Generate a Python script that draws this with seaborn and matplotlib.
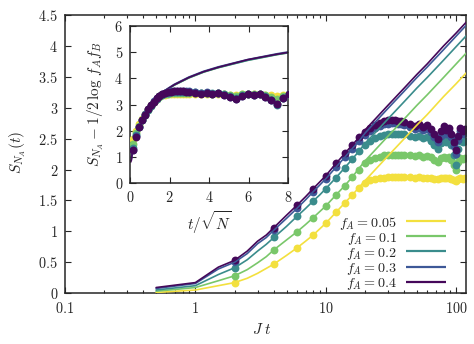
import numpy as np
import pandas as pd
import matplotlib
matplotlib.use("Agg")
import matplotlib.pyplot as plt
from matplotlib.ticker import FixedLocator, FuncFormatter, LogLocator, NullFormatter, MultipleLocator
import seaborn as sns

# ---------------------------------------------------------------- data
f_A = [0.05, 0.1, 0.2, 0.3, 0.4]
labels = [r"$f_A = 0.05$", r"$f_A = 0.1$", r"$f_A = 0.2$", r"$f_A = 0.3$", r"$f_A = 0.4$"]
colors = ["#f3e03e", "#79c76a", "#3a8c8c", "#3d5897", "#45085a"]
N_sites = 180

# infinite-system entropy (continuous lines)
t_line = [0.5, 1, 1.5, 2, 2.5, 3, 3.5, 4, 5, 6, 7, 8, 9, 10, 12, 14, 16, 18, 20,
          25, 30, 40, 50, 60, 80, 100, 120]
S_line_005 = [0.01, 0.05, 0.12, 0.17, 0.24, 0.32, 0.40, 0.47, 0.61, 0.73, 0.84, 0.94, 1.04, 1.13,
              1.31, 1.46, 1.59, 1.71, 1.82, 2.04, 2.22, 2.50, 2.72, 2.89, 3.18, 3.39, 3.57]
S_line_01 = [0.03, 0.09, 0.20, 0.28, 0.38, 0.49, 0.59, 0.70, 0.86, 0.99, 1.11, 1.22, 1.32, 1.41,
             1.59, 1.74, 1.88, 2.02, 2.14, 2.36, 2.54, 2.82, 3.04, 3.21, 3.49, 3.71, 3.89]
S_line_02 = [0.05, 0.12, 0.30, 0.41, 0.54, 0.68, 0.79, 0.90, 1.08, 1.24, 1.37, 1.49, 1.59, 1.69,
             1.87, 2.03, 2.17, 2.30, 2.42, 2.64, 2.82, 3.10, 3.32, 3.49, 3.77, 3.99, 4.17]
S_line_03 = [0.075, 0.155, 0.39, 0.50, 0.64, 0.80, 0.90, 1.02, 1.21, 1.37, 1.51, 1.64, 1.75, 1.85,
             2.04, 2.20, 2.34, 2.46, 2.59, 2.81, 2.99, 3.27, 3.49, 3.66, 3.94, 4.16, 4.34]
S_line_04 = [0.09, 0.17, 0.42, 0.53, 0.68, 0.84, 0.94, 1.06, 1.26, 1.42, 1.56, 1.69, 1.80, 1.90,
             2.10, 2.26, 2.40, 2.52, 2.64, 2.86, 3.04, 3.32, 3.54, 3.71, 4.00, 4.21, 4.39]

# finite-system entropy (circles)
t_mark = [2, 4, 6, 8, 10, 12, 14, 16, 18, 20, 22, 24, 26, 28, 30, 32, 34, 36, 38, 40,
          44, 48, 52, 56, 60, 64, 68, 72, 76, 80, 84, 88, 92, 96, 100, 104, 108, 112, 116]
S_mark_005 = [0.17, 0.47, 0.73, 0.94, 1.13, 1.31, 1.46, 1.59, 1.70, 1.79, 1.83, 1.85, 1.86, 1.87,
              1.88, 1.88, 1.88, 1.88, 1.88, 1.88, 1.88, 1.87, 1.88, 1.87, 1.87, 1.87, 1.85, 1.84,
              1.86, 1.87, 1.86, 1.87, 1.85, 1.83, 1.81, 1.84, 1.86, 1.85, 1.86]
S_mark_01 = [0.28, 0.70, 0.99, 1.22, 1.41, 1.59, 1.74, 1.88, 2.00, 2.10, 2.15, 2.19, 2.21, 2.23,
             2.24, 2.24, 2.24, 2.24, 2.24, 2.24, 2.23, 2.22, 2.23, 2.21, 2.22, 2.20, 2.16, 2.12,
             2.18, 2.21, 2.19, 2.20, 2.15, 2.08, 2.00, 2.12, 2.19, 2.17, 2.18]
S_mark_02 = [0.41, 0.90, 1.24, 1.49, 1.69, 1.87, 2.03, 2.17, 2.30, 2.40, 2.46, 2.51, 2.54, 2.56,
             2.57, 2.58, 2.58, 2.58, 2.58, 2.57, 2.55, 2.53, 2.54, 2.51, 2.52, 2.47, 2.40, 2.33,
             2.43, 2.50, 2.45, 2.48, 2.39, 2.24, 2.08, 2.33, 2.47, 2.44, 2.46]
S_mark_03 = [0.50, 1.02, 1.37, 1.64, 1.85, 2.04, 2.20, 2.34, 2.46, 2.56, 2.62, 2.67, 2.70, 2.73,
             2.74, 2.75, 2.75, 2.74, 2.73, 2.72, 2.69, 2.66, 2.68, 2.64, 2.66, 2.60, 2.52, 2.44,
             2.55, 2.64, 2.58, 2.62, 2.52, 2.38, 2.25, 2.48, 2.62, 2.57, 2.60]
S_mark_04 = [0.53, 1.06, 1.42, 1.69, 1.90, 2.10, 2.26, 2.40, 2.52, 2.61, 2.67, 2.72, 2.75, 2.78,
             2.80, 2.80, 2.80, 2.79, 2.78, 2.77, 2.74, 2.70, 2.73, 2.69, 2.72, 2.66, 2.58, 2.50,
             2.62, 2.70, 2.64, 2.68, 2.58, 2.45, 2.32, 2.55, 2.68, 2.63, 2.66]

S_line = [S_line_005, S_line_01, S_line_02, S_line_03, S_line_04]
S_mark = [S_mark_005, S_mark_01, S_mark_02, S_mark_03, S_mark_04]

# ---------------------------------------------------------------- style
sns.set_style("ticks")
plt.rcParams["mathtext.fontset"] = "cm"
plt.rcParams["font.family"] = ["DejaVu Serif"]
FS = 10.3    # tick labels
LFS = 11     # axis labels
GFS = 10.2   # legend entries

lines_df = pd.concat([pd.DataFrame({"t": t_line, "S": s, "fA": f})
                      for f, s in zip(f_A, S_line)], ignore_index=True)
marks_df = pd.concat([pd.DataFrame({"t": t_mark, "S": s, "fA": f})
                      for f, s in zip(f_A, S_mark)], ignore_index=True)
sqrtN = np.sqrt(N_sites)
for df in (lines_df, marks_df):
    df["tau"] = df["t"] / sqrtN
    df["S_shift"] = df["S"] - 0.5 * np.log(df["fA"] * (1 - df["fA"]))

fig = plt.figure(figsize=(4.74, 3.44), dpi=100)
ax = fig.add_axes([0.1371, 0.148, 0.846, 0.808])
axin = fig.add_axes([0.2743, 0.468, 0.3333, 0.4564])

math_fmt = FuncFormatter(lambda v, p: f"${v:g}$")
MS = 32

# ---------------------------------------------------------------- main panel
for f, c in zip(f_A, colors):
    d = marks_df[marks_df.fA == f]
    sns.scatterplot(data=d, x="t", y="S", color=c, s=MS, linewidth=0, ax=ax, zorder=2)
for f, c in zip(f_A, colors):
    d = lines_df[lines_df.fA == f]
    sns.lineplot(data=d, x="t", y="S", color=c, linewidth=1.2, ax=ax, zorder=3)

ax.set_xscale("log")
ax.set_xlim(0.1, 119)
ax.set_ylim(0, 4.5)
ax.xaxis.set_major_locator(FixedLocator([0.1, 1, 10, 100]))
ax.xaxis.set_minor_locator(LogLocator(base=10, subs=range(2, 10)))
ax.xaxis.set_major_formatter(math_fmt)
ax.xaxis.set_minor_formatter(NullFormatter())
ax.yaxis.set_major_locator(MultipleLocator(0.5))
ax.yaxis.set_major_formatter(math_fmt)
ax.tick_params(which="both", direction="in", top=True, right=True, width=0.8, labelsize=FS)
ax.tick_params(which="major", length=4)
ax.tick_params(which="minor", length=2.2)
ax.tick_params(axis="x", pad=6)
ax.tick_params(axis="y", pad=5)
for sp in ax.spines.values():
    sp.set_linewidth(1.1)
ax.set_xlabel(r"$J\;t$", fontsize=LFS, va="center")
ax.set_ylabel(r"$S_{N_A}(t)$", fontsize=LFS, va="center")
ax.xaxis.set_label_coords(0.49, -0.13)
ax.yaxis.set_label_coords(-0.118, 0.505)

# legend: right-aligned labels followed by line samples
for i, (lab, c) in enumerate(zip(labels, colors)):
    y = 0.259 - 0.0545 * i
    ax.text(0.828, y, lab, transform=ax.transAxes, ha="right", va="center_baseline",
            fontsize=GFS)
    ax.plot([0.851, 0.951], [y, y], transform=ax.transAxes, color=c, linewidth=1.6,
            solid_capstyle="butt")

# ---------------------------------------------------------------- inset
for f, c in zip(f_A, colors):
    d = lines_df[lines_df.fA == f]
    sns.lineplot(data=d, x="tau", y="S_shift", color=c, linewidth=1.2, ax=axin, zorder=2)
for f, c in zip(f_A, colors):
    d = marks_df[marks_df.fA == f]
    sns.scatterplot(data=d, x="tau", y="S_shift", color=c, s=MS, linewidth=0, ax=axin, zorder=3)

axin.set_xlim(0, 8)
axin.set_ylim(0, 6)
axin.xaxis.set_major_locator(MultipleLocator(2))
axin.yaxis.set_major_locator(MultipleLocator(1))
axin.xaxis.set_major_formatter(math_fmt)
axin.yaxis.set_major_formatter(math_fmt)
axin.tick_params(direction="in", top=True, right=True, length=4, width=0.8,
                 labelsize=FS, pad=5)
for sp in axin.spines.values():
    sp.set_linewidth(1.1)
axin.set_xlabel(r"$t/\sqrt{N}$", fontsize=LFS, va="center")
axin.set_ylabel(r"$S_{N_A} - 1/2\,\log\,f_A f_B$", fontsize=LFS, va="center")
axin.xaxis.set_label_coords(0.5, -0.25)
axin.yaxis.set_label_coords(-0.215, 0.503)

fig.savefig("out.png", dpi=100)
